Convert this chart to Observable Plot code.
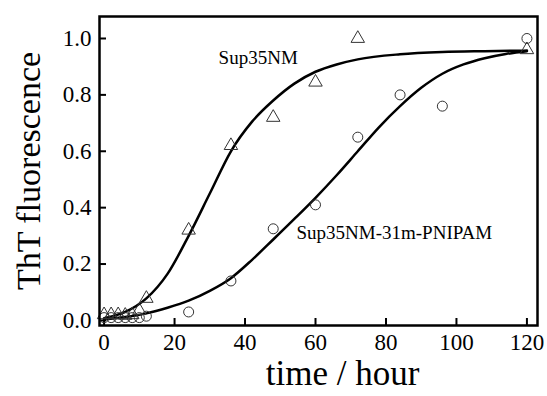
<!DOCTYPE html>
<html><head><meta charset="utf-8">
<script src="https://cdn.jsdelivr.net/npm/d3@7"></script>
<script src="https://cdn.jsdelivr.net/npm/@observablehq/plot@0.6"></script>
<style>body{margin:0;background:#fff;} svg, svg text{font-family:"Times New Roman","Liberation Serif",serif !important;}</style>
</head><body><div id="chart"></div>
<script>
// Measured points
const timeNM = [0, 2, 4, 6, 8, 10, 12, 24, 36, 48, 60, 72, 120];
const valNM  = [0.02, 0.02, 0.02, 0.018, 0.02, 0.035, 0.078, 0.32, 0.62, 0.72, 0.845, 1.0, 0.96];
const timeP  = [0, 2, 4, 6, 8, 10, 12, 24, 36, 48, 60, 72, 84, 96, 120];
const valP   = [0.01, 0.01, 0.01, 0.01, 0.01, 0.01, 0.015, 0.03, 0.14, 0.325, 0.41, 0.65, 0.80, 0.76, 1.0];
// Fitted curves
const fitTimeNM = [0, 6, 12, 18, 24, 30, 36, 42, 48, 54, 60, 66, 72, 84, 96, 108, 120];
const fitValNM  = [0.008, 0.03, 0.078, 0.165, 0.30, 0.45, 0.60, 0.705, 0.78, 0.84, 0.882, 0.908, 0.926, 0.944, 0.952, 0.955, 0.957];
const fitTimeP  = [0, 6, 12, 18, 24, 30, 36, 42, 48, 54, 60, 66, 72, 78, 84, 90, 96, 102, 108, 114, 120];
const fitValP   = [0.004, 0.012, 0.025, 0.045, 0.07, 0.105, 0.15, 0.215, 0.287, 0.36, 0.435, 0.515, 0.60, 0.685, 0.76, 0.825, 0.875, 0.908, 0.93, 0.945, 0.955];
const xTicks = [0, 20, 40, 60, 80, 100, 120];
const yTicks = [0.0, 0.2, 0.4, 0.6, 0.8, 1.0];
const labelNM = "Sup35NM";
const labelP = "Sup35NM-31m-PNIPAM";
const xTitle = "time / hour";
const yTitle = "ThT fluorescence";

const ptsNM = timeNM.map((t, i) => ({t, v: valNM[i]}));
const ptsP = timeP.map((t, i) => ({t, v: valP[i]}));
const fitNM = fitTimeNM.map((t, i) => ({t, v: fitValNM[i]}));
const fitP = fitTimeP.map((t, i) => ({t, v: fitValP[i]}));

const serif = '"Times New Roman","Liberation Serif",serif';
const chart = Plot.plot({
  width: 547, height: 396,
  marginLeft: 99, marginRight: 10, marginTop: 16, marginBottom: 71,
  style: {fontFamily: serif, background: "#fff"},
  x: {domain: [-1.3, 123]},
  y: {domain: [-0.018, 1.078]},
  marks: [
    // inward tick marks only
    Plot.axisX({ticks: xTicks, tickSize: -7, tickFormat: () => "", label: null, strokeWidth: 2}),
    Plot.axisY({ticks: yTicks, tickSize: -7, tickFormat: () => "", label: null, strokeWidth: 2}),
    // tick labels & titles as text marks
    Plot.text(xTicks, {x: d => d, frameAnchor: "bottom", lineAnchor: "middle", dy: 17, text: d => String(d), fontSize: 23, fontFamily: serif, fill: "#000"}),
    Plot.text(yTicks, {y: d => d, frameAnchor: "left", lineAnchor: "middle", dx: -8, textAnchor: "end", text: d => d.toFixed(1), fontSize: 23, fontFamily: serif, fill: "#000"}),
    Plot.text([xTitle], {frameAnchor: "bottom", lineAnchor: "middle", textAnchor: "middle", dy: 48, dx: 24, text: d => d, fontSize: 35, fontFamily: serif, fill: "#000"}),
    Plot.text([yTitle], {frameAnchor: "left", lineAnchor: "middle", textAnchor: "middle", dx: -70, rotate: -90, text: d => d, fontSize: 34, fontFamily: serif, fill: "#000"}),
    Plot.line(fitNM, {x: "t", y: "v", curve: "monotone-x", stroke: "#000", strokeWidth: 2.5}),
    Plot.line(fitP, {x: "t", y: "v", curve: "monotone-x", stroke: "#000", strokeWidth: 2.5}),
    Plot.dot(ptsNM, {x: "t", y: "v", symbol: "triangle", r: 5, stroke: "#333", strokeWidth: 1, fill: "none"}),
    Plot.dot(ptsP, {x: "t", y: "v", symbol: "circle", r: 5, stroke: "#333", strokeWidth: 1, fill: "none"}),
    Plot.text([labelNM], {x: 32.5, y: 0.93, text: d => d, textAnchor: "start", fontSize: 19, fontFamily: serif, fill: "#000"}),
    Plot.text([labelP], {x: 54.6, y: 0.31, text: d => d, textAnchor: "start", fontSize: 19, fontFamily: serif, fill: "#000"}),
    Plot.frame({stroke: "#000", strokeWidth: 2.5})
  ]
});
document.getElementById("chart").appendChild(chart);
chart.querySelectorAll("text").forEach(t => t.style.setProperty("font-family", serif, "important"));
</script></body></html>
